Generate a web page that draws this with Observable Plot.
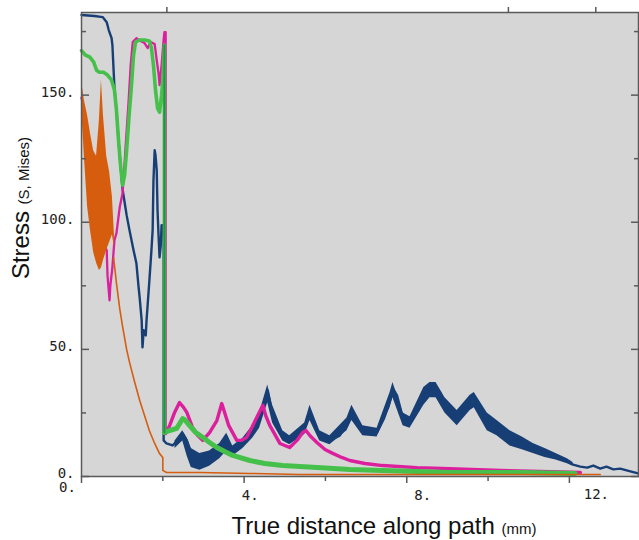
<!DOCTYPE html>
<html><head><meta charset="utf-8">
<script src="https://cdn.jsdelivr.net/npm/d3@7"></script>
<script src="https://cdn.jsdelivr.net/npm/@observablehq/plot@0.6"></script>
<style>
body{margin:0;background:#fff;}
#chart{width:639px;height:540px;}
</style></head><body><div id="chart"></div>
<script>
// ---- data (x in mm, y = von Mises stress) ----
const blueX = [0,0.32,0.52,0.62,0.67,0.74,0.76,0.81,0.86,0.91,0.96,1.01,1.11,1.18,1.28,1.35,1.40,1.43,1.48,1.50,1.53,1.58,1.60,1.67,1.72,1.75,1.77,1.80,1.82,1.85,1.87,1.90,1.92,1.95,1.97,2.02,2.02,2.09,2.24,2.36,2.49,2.59,2.66,2.73,2.91,3.15,3.30,3.40,3.52,3.57,3.65,3.72,3.97,4.21,4.38,4.51,4.58,4.65,4.78,4.95,5.12,5.32,5.49,5.62,5.71,5.86,6.11,6.35,6.53,6.65,6.75,6.92,7.09,7.27,7.44,7.59,7.66,7.76,7.91,8.08,8.28,8.42,8.57,8.72,8.82,8.94,9.11,9.24,9.38,9.56,9.66,9.73,9.98,10.22,10.54,10.84,11.11,11.40,11.67,11.95,12.09,12.27,12.44,12.59,12.76,12.91,13.08,13.25,13.50,13.69];
const blueY = [181.5,181.1,180.7,178.7,175.6,172.4,169.7,153,144,132.3,122.4,113,102.8,96.9,89,83.9,75.2,70.5,61.4,50.8,57.5,55.5,61.4,77.2,89,96.9,116.5,128.3,126.4,120.5,104.7,92.9,86.2,90.9,98.8,98.8,14.2,13,12.2,14.2,16.9,14.2,11,7.5,6.3,7.5,9.4,11.4,14.2,15.7,12.2,10.2,13,18.1,22.8,29.9,33.9,28,20.1,16.1,14.2,15,18.9,25.2,22,16.1,14.2,16.1,20.1,25.2,22,18.1,16.9,17.3,22.8,29.9,34.6,31.9,22.8,21.3,26,31.9,34.6,34.6,33.1,28,24,23.2,26,29.1,29.9,26.8,22,19.3,15.4,13.4,11.4,9.4,7.9,5.9,4.7,3.9,3.5,4.3,3.1,3.9,2.8,3.1,2.0,1.2];

const blueBandX  = [2.30,2.49,2.60,2.70,2.91,3.15,3.40,3.57,3.72,3.97,4.21,4.38,4.58,4.70,4.95,5.12,5.49,5.62,5.86,6.11,6.53,6.65,6.92,7.27,7.59,7.66,7.91,8.08,8.42,8.57,8.72,8.94,9.24,9.56,9.66,9.98,10.22,10.54,10.84,11.11,11.40,11.67,11.95,12.09];
const blueBandLo = [11,14,8,3.5,2.5,4,7,10,8,11,15,19,29,21,14,12.5,16.5,22,14,12.5,18,22,16,15.5,27,31,20,19,28,31,31,25,20,26,27,18,16,12,10.5,9,7.5,6.5,5,4];
const blueBandHi = [14,18,15,11,9,10,13,17,12,15,20,25,36,28,18,16,21,28,18,16,23,28,20,19,33,37,25,23.5,35,37,37,31,26,32,33,25,22,18,15.5,13,11,9,7,5.5];

const magentaX = [0,0.07,0.12,0.15,0.22,0.32,0.42,0.52,0.57,0.62,0.64,0.69,0.71,0.76,0.81,0.86,0.94,1.01,1.08,1.16,1.21,1.26,1.35,1.45,1.55,1.63,1.70,1.80,1.85,1.90,1.92,1.97,2.02,2.04,2.07,2.07,2.17,2.29,2.41,2.51,2.59,2.73,2.86,2.98,3.15,3.33,3.45,3.52,3.62,3.82,3.94,4.06,4.19,4.31,4.46,4.53,4.63,4.88,5.12,5.30,5.44,5.52,5.64,5.79,5.99,6.18,6.40,6.60,6.97,7.41,8.25,9.06,10.30,11.28,12.27];
const magentaY = [149,144,137.4,128.3,118.5,110.6,102.8,94.9,90.2,89,79.1,69.3,75.2,82.3,92.9,95.7,105.9,111.4,128.3,148,161.8,170.9,172.4,171.3,170.5,168.5,170.9,170.1,163.8,157.9,153.9,161.8,171.7,174.8,174.8,16.9,20.1,25.2,29.1,27.2,25.2,19.3,16.1,14.2,17.3,22,28.7,25.2,20.1,14.2,14.2,15.4,19.3,23.2,28,24,20.1,13,11.4,14.2,17.3,18.1,15.7,13.4,10.6,9.1,7.5,6.3,5.1,4.3,3.5,3.1,2.4,2.0,1.6];
const magentaDropX = 2.07;

const greenX = [0,0.10,0.20,0.30,0.37,0.44,0.54,0.64,0.74,0.81,0.86,0.91,0.96,1.01,1.06,1.11,1.18,1.23,1.28,1.33,1.43,1.55,1.67,1.72,1.77,1.82,1.87,1.92,1.97,2.00,2.04,2.04,2.17,2.34,2.49,2.56,2.66,2.81,2.98,3.15,3.33,3.52,3.72,4.14,4.51,4.95,5.79,6.60,7.41,9.06,10.79,12.14];
const greenY = [167.5,165.7,165,163,159.8,159,159,157.9,155.9,152,144,132.3,122.4,114.6,118.5,128.3,144,154,165.7,170.9,171.7,171.7,171.3,168.5,161.8,152,144.9,143.3,150,155.9,169.7,17.3,18.1,18.9,22.8,22,20,17.3,15.4,13.4,11.4,9.8,8.3,6.3,5.1,4.3,3.5,2.8,2.4,1.6,1.6,1.2];
const greenDropX = 2.04;

const orangeBandX  = [0,0.07,0.15,0.22,0.30,0.37,0.44,0.49,0.54,0.62,0.69,0.76,0.81];
const orangeBandLo = [145,126,106,97,88,84,81,82,85,89,92,95,90];
const orangeBandHi = [156,148,142,135,128,126,140,156,142,126,120,110,95];

const orangeX = [0.79,0.86,0.94,1.01,1.11,1.18,1.31,1.43,1.55,1.67,1.80,1.92,2.00,2.00,2.09,2.91,4.14,5.37,7.83,10.30,11.77,12.76];
const orangeY = [86,76,66,59,50,45,37,30,24,18,13,9,7.5,2.4,1.6,1.6,1.2,0.8,0.8,0.8,0.8,0.8];

const yMajor = [0,50,100,150];
const yMinor = [25,75,125,175];
const xMajor = [0,4,8,12];
const xMinor = [2,6,10];
const xTopTicks = [2.1,10.5,12.65];

const C = {blue:"#173f75", magenta:"#dc1f9c", green:"#45c04a", darkGreen:"#2f8a52", orange:"#d65d0e", bg:"#d6d6d6", axis:"#5a5a5a"};

const pts = (xs, ys) => xs.map((x,i)=>({x, y:ys[i]}));
const band = (xs, lo, hi) => xs.map((x,i)=>({x, lo:lo[i], hi:hi[i]}));
const greenPts = pts(greenX, greenY);
const magentaPts = pts(magentaX, magentaY);

// per-label placement of the x tick labels (as in the reference)
const xLabelShift = {0:[-14,-5], 4:[6,3], 8:[16,3], 12:[27,2]};
const labelAxes = xMajor.map(v => Plot.axisX({ticks:[v], tickSize:0, tickPadding:11, tickFormat:d=>d+".", label:null,
  dx:xLabelShift[v][0], dy:xLabelShift[v][1], fill:"#222"}));

const chart = Plot.plot({
  width:639, height:540,
  marginLeft:81, marginRight:1, marginTop:12, marginBottom:64,
  style:{background:"#fff", fontFamily:"'DejaVu Sans Mono', monospace", fontSize:"14px", color:"#222"},
  x:{domain:[0,13.7]},
  y:{domain:[0,182.5]},
  marks:[
    Plot.frame({fill:C.bg, stroke:null}),
    Plot.areaY(band(blueBandX, blueBandLo, blueBandHi), {x:"x", y1:"lo", y2:"hi", fill:C.blue}),
    Plot.lineY(pts(blueX, blueY), {x:"x", y:"y", stroke:C.blue, strokeWidth:2.4, strokeLinejoin:"round"}),
    Plot.lineY(magentaPts.filter(d=>d.x<=magentaDropX), {x:"x", y:"y", stroke:C.magenta, strokeWidth:2.3, strokeLinejoin:"round"}),
    Plot.lineY(magentaPts.filter((d,i)=>d.x>=magentaDropX && d.y<100), {x:"x", y:"y", stroke:C.magenta, strokeWidth:3.4, strokeLinejoin:"round"}),
    Plot.lineY(greenPts.filter(d=>d.x<=greenDropX), {x:"x", y:"y", stroke:C.green, strokeWidth:3.6, strokeLinejoin:"round"}),
    Plot.lineY(greenPts.filter(d=>d.x>=greenDropX && d.y<100), {x:"x", y:"y", stroke:C.green, strokeWidth:5, strokeLinejoin:"round"}),
    Plot.lineY(greenPts.filter(d=>d.x===greenDropX), {x:"x", y:"y", stroke:C.darkGreen, strokeWidth:2}),
    Plot.areaY(band(orangeBandX, orangeBandLo, orangeBandHi), {x:"x", y1:"lo", y2:"hi", fill:C.orange}),
    Plot.lineY(pts(orangeX, orangeY), {x:"x", y:"y", stroke:C.orange, strokeWidth:1.6}),
    Plot.frame({stroke:C.axis, strokeWidth:1.5}),
    // left axis: inward ticks + labels
    Plot.axisY({ticks:yMajor, tickSize:-8, tickFormat:()=>"", label:null, stroke:C.axis, strokeWidth:1.5}),
    Plot.axisY({ticks:yMinor, tickSize:-5, tickFormat:()=>"", label:null, stroke:C.axis, strokeWidth:1.5}),
    Plot.axisY({ticks:yMajor, tickSize:0, tickPadding:7, tickFormat:d=>d+".", label:null, dy:-3, fill:"#222"}),
    // right axis: inward ticks
    Plot.axisY({anchor:"right", ticks:yMajor, tickSize:-8, tickFormat:()=>"", label:null, stroke:C.axis, strokeWidth:1.5}),
    Plot.axisY({anchor:"right", ticks:yMinor, tickSize:-5, tickFormat:()=>"", label:null, stroke:C.axis, strokeWidth:1.5}),
    // bottom axis
    Plot.axisX({ticks:xMajor, tickSize:7, tickFormat:()=>"", label:null, stroke:C.axis, strokeWidth:1.5}),
    Plot.axisX({ticks:xMinor, tickSize:5, tickFormat:()=>"", label:null, stroke:C.axis, strokeWidth:1.5}),
    ...labelAxes,
    // top axis
    Plot.axisX({anchor:"top", ticks:xTopTicks, tickSize:6, tickFormat:()=>"", label:null, stroke:C.axis, strokeWidth:1.5})
  ]
});
document.getElementById("chart").appendChild(chart);

// axis titles (large word + small parenthetical), Liberation Sans
const svg = d3.select(chart);
const yt = svg.append("text")
  .attr("transform","translate(29,208) rotate(-90)")
  .attr("text-anchor","middle")
  .attr("font-family","'Liberation Sans', Arial, sans-serif")
  .attr("fill","#111");
yt.append("tspan").attr("font-size",24).text("Stress ");
yt.append("tspan").attr("font-size",15).text("(S, Mises)");
const xt = svg.append("text")
  .attr("x",384).attr("y",534)
  .attr("text-anchor","middle")
  .attr("font-family","'Liberation Sans', Arial, sans-serif")
  .attr("fill","#111");
xt.append("tspan").attr("font-size",24).text("True distance along path ");
xt.append("tspan").attr("font-size",15).text("(mm)");
</script></body></html>
